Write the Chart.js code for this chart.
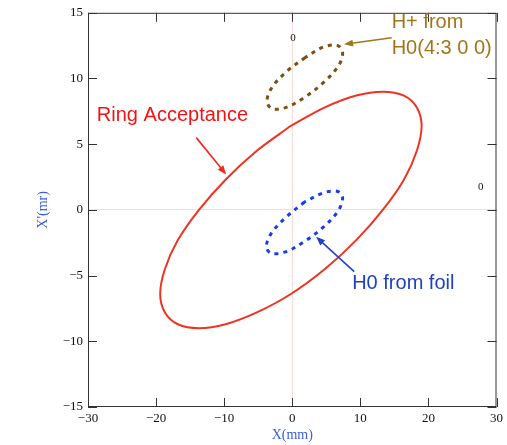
<!DOCTYPE html>
<html>
<head>
<meta charset="utf-8">
<script src="https://cdn.jsdelivr.net/npm/chart.js@4.4.1/dist/chart.umd.min.js"></script>
<style>
  html, body { margin: 0; padding: 0; background: #fff; }
  #wrap { width: 507px; height: 445px; }
</style>
</head>
<body>
<div id="wrap"><canvas id="myChart" width="507" height="445"></canvas></div>
<script>
// axis ranges / ticks
var xRange = [-30, 30];
var yRange = [-15, 15];
var xStep = 10;
var yStep = 5;

// ring acceptance (red solid), points read around the contour
var ringX = [-0.2, -5.2, -9.8, -13.7, -16.8, -18.7, -19.4, -18.7, -16.8, -13.7, -9.8, -5.2, -0.2, 4.8, 9.4, 13.3, 16.4, 18.3, 19.0, 18.3, 16.4, 13.3, 9.4, 4.8, -0.2];
var ringY = [6.4, 4.5, 2.3, 0.0, -2.3, -4.5, -6.4, -7.8, -8.7, -9.0, -8.7, -7.8, -6.4, -4.5, -2.3, 0.0, 2.3, 4.5, 6.4, 7.8, 8.7, 9.0, 8.7, 7.8, 6.4];

// H+ from H0(4:3 0 0) (brown dotted)
var hplusX = [1.9, -0.9, -3.0, -3.7, -3.0, -0.9, 1.9, 4.6, 6.7, 7.4, 6.7, 4.6, 1.9];
var hplusY = [11.6, 10.5, 9.3, 8.3, 7.7, 7.8, 8.6, 9.7, 10.9, 11.9, 12.5, 12.4, 11.6];

// H0 from foil (blue dotted)
var h0X = [1.8, -1.0, -3.1, -3.8, -3.1, -1.0, 1.8, 4.6, 6.7, 7.4, 6.7, 4.6, 1.8];
var h0Y = [0.6, -0.6, -1.8, -2.8, -3.3, -3.2, -2.4, -1.3, -0.1, 0.9, 1.4, 1.3, 0.6];

function pts(xs, ys) {
  var out = [];
  for (var i = 0; i < xs.length; i++) out.push({x: xs[i], y: ys[i]});
  return out;
}

var sans = '20px "Liberation Sans", Arial, sans-serif';

// labels and arrows placed in data coordinates
var notes = [
  {text: 'Ring Acceptance', x: -28.7, y: 7.2, color: '#ee1515', font: sans},
  {text: 'H+ from', x: 14.6, y: 14.3, color: '#a0761a', font: sans},
  {text: 'H0(4:3 0 0)', x: 14.6, y: 12.25, color: '#a0761a', font: sans},
  {text: 'H0 from foil', x: 8.8, y: -5.6, color: '#1e3fc4', font: sans},
  {text: '0', x: -0.3, y: 13.1, color: '#111', font: '11px "Liberation Serif", serif'},
  {text: '0', x: 27.3, y: 1.7, color: '#111', font: '11px "Liberation Serif", serif'}
];
var arrows = [
  {from: [-14.1, 5.5], to: [-9.7, 2.7], color: '#f02a1e'},
  {from: [14.6, 13.1], to: [7.6, 12.6], color: '#a0761a'},
  {from: [9.1, -4.7], to: [3.5, -2.05], color: '#2040c8'}
];

var extras = {
  id: 'extras',
  afterDraw: function(chart) {
    var c = chart.ctx, a = chart.chartArea;
    var sx = chart.scales.x, sy = chart.scales.y;
    c.save();
    // frame
    c.strokeStyle = '#333';
    c.lineWidth = 1;
    c.strokeRect(a.left + 0.5, a.top + 0.5, a.right - a.left - 1, a.bottom - a.top - 1);
    // inward ticks on all four sides
    var tl = 9;
    c.beginPath();
    sx.ticks.forEach(function(t) {
      var px = Math.round(sx.getPixelForValue(t.value)) + 0.5;
      c.moveTo(px, a.bottom); c.lineTo(px, a.bottom - tl);
      c.moveTo(px, a.top); c.lineTo(px, a.top + tl);
    });
    sy.ticks.forEach(function(t) {
      var py = Math.round(sy.getPixelForValue(t.value)) + 0.5;
      c.moveTo(a.left, py); c.lineTo(a.left + tl, py);
      c.moveTo(a.right, py); c.lineTo(a.right - tl, py);
    });
    c.stroke();
    // arrows
    arrows.forEach(function(ar) {
      var x1 = sx.getPixelForValue(ar.from[0]), y1 = sy.getPixelForValue(ar.from[1]);
      var x2 = sx.getPixelForValue(ar.to[0]), y2 = sy.getPixelForValue(ar.to[1]);
      var ang = Math.atan2(y2 - y1, x2 - x1);
      c.strokeStyle = ar.color;
      c.fillStyle = ar.color;
      c.lineWidth = 1.6;
      c.beginPath();
      c.moveTo(x1, y1);
      c.lineTo(x2 - 6 * Math.cos(ang), y2 - 6 * Math.sin(ang));
      c.stroke();
      c.beginPath();
      c.moveTo(x2, y2);
      c.lineTo(x2 - 9 * Math.cos(ang) + 3.5 * Math.sin(ang), y2 - 9 * Math.sin(ang) - 3.5 * Math.cos(ang));
      c.lineTo(x2 - 9 * Math.cos(ang) - 3.5 * Math.sin(ang), y2 - 9 * Math.sin(ang) + 3.5 * Math.cos(ang));
      c.closePath();
      c.fill();
    });
    // text notes
    c.textAlign = 'left';
    c.textBaseline = 'middle';
    notes.forEach(function(n) {
      c.font = n.font;
      c.fillStyle = n.color;
      c.fillText(n.text, sx.getPixelForValue(n.x), sy.getPixelForValue(n.y));
    });
    c.restore();
  }
};

var tickFont = {family: '"Liberation Serif", "Times New Roman", serif', size: 13};
var titleFont = {family: '"Liberation Serif", "Times New Roman", serif', size: 14};

function minus(v) {
  return String(v).replace('-', '\u2212');
}

function zeroLine(ctx) {
  return ctx.tick && ctx.tick.value === 0 ? '#f7dcdc' : 'rgba(0,0,0,0)';
}

new Chart('myChart', {
  type: 'scatter',
  data: {
    datasets: [{
      data: pts(ringX, ringY),
      showLine: true,
      borderColor: '#ee3322',
      borderWidth: 2,
      pointRadius: 0,
      tension: 0.34,
      fill: false
    }, {
      data: pts(hplusX, hplusY),
      showLine: true,
      borderColor: '#7e4e14',
      borderWidth: 3,
      borderDash: [4, 5],
      pointRadius: 0,
      tension: 0.35,
      fill: false
    }, {
      data: pts(h0X, h0Y),
      showLine: true,
      borderColor: '#1a3cf0',
      borderWidth: 3,
      borderDash: [4, 5],
      pointRadius: 0,
      tension: 0.35,
      fill: false
    }]
  },
  options: {
    responsive: false,
    animation: false,
    layout: {padding: {top: 12, right: 9, left: 0, bottom: 0}},
    plugins: {legend: {display: false}, tooltip: {enabled: false}},
    scales: {
      x: {
        type: 'linear',
        min: xRange[0], max: xRange[1],
        border: {display: false},
        grid: {drawTicks: false, color: zeroLine},
        ticks: {stepSize: xStep, color: '#111', font: tickFont, padding: 4, maxRotation: 0, callback: minus},
        title: {display: true, text: 'X(mm)', color: '#3a5fd6', font: titleFont, padding: {top: 0, bottom: 1}},
        afterFit: function(s) { s.height = 38; }
      },
      y: {
        type: 'linear',
        min: yRange[0], max: yRange[1],
        border: {display: false},
        grid: {drawTicks: false, color: zeroLine},
        ticks: {stepSize: yStep, color: '#111', font: tickFont, padding: 5, callback: minus},
        title: {display: true, text: "X'(mr)", color: '#3a5fd6', font: titleFont, padding: {top: 35, bottom: 0}},
        afterFit: function(s) { s.width = 88; }
      }
    }
  },
  plugins: [extras]
});
</script>
</body>
</html>
